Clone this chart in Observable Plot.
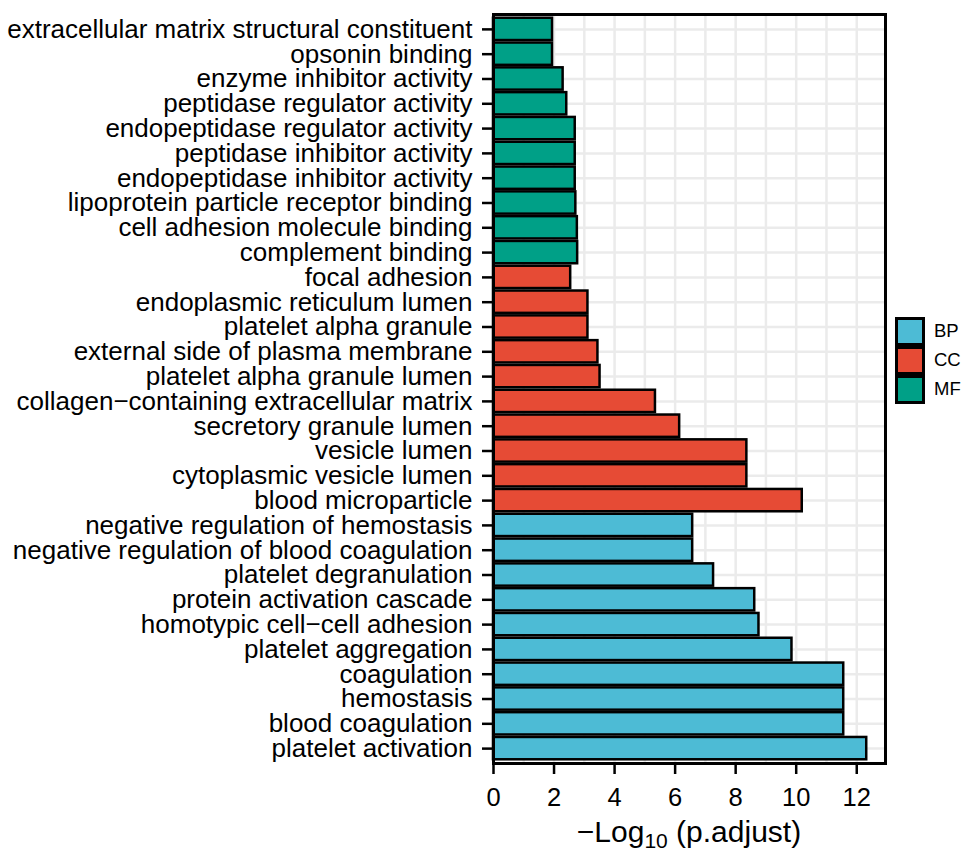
<!DOCTYPE html>
<html>
<head>
<meta charset="utf-8">
<script src="https://cdn.jsdelivr.net/npm/d3@7"></script>
<script src="https://cdn.jsdelivr.net/npm/@observablehq/plot@0.6"></script>
<style>
  html, body { margin: 0; padding: 0; background: #fff; }
  #wrap { position: relative; width: 969px; height: 850px; font-family: "Liberation Sans", Arial, sans-serif; }
  #legend { position: absolute; left: 895px; top: 317px; }
  .key { display: flex; align-items: center; height: 29px; }
  .sw { width: 24px; height: 23px; border: 3px solid #000; box-sizing: content-box; }
  .lab { font-size: 18.5px; margin-left: 9px; color: #000; line-height: 1; }
</style>
</head>
<body>
<div id="wrap"></div>
<script>
// Terms, top to bottom
const mfTerms = [
  "extracellular matrix structural constituent",
  "opsonin binding",
  "enzyme inhibitor activity",
  "peptidase regulator activity",
  "endopeptidase regulator activity",
  "peptidase inhibitor activity",
  "endopeptidase inhibitor activity",
  "lipoprotein particle receptor binding",
  "cell adhesion molecule binding",
  "complement binding"
];
const mfValues = [1.95, 1.95, 2.3, 2.42, 2.7, 2.7, 2.7, 2.72, 2.77, 2.78];

const ccTerms = [
  "focal adhesion",
  "endoplasmic reticulum lumen",
  "platelet alpha granule",
  "external side of plasma membrane",
  "platelet alpha granule lumen",
  "collagen\u2212containing extracellular matrix",
  "secretory granule lumen",
  "vesicle lumen",
  "cytoplasmic vesicle lumen",
  "blood microparticle"
];
const ccValues = [2.55, 3.12, 3.12, 3.45, 3.52, 5.35, 6.15, 8.37, 8.37, 10.2];

const bpTerms = [
  "negative regulation of hemostasis",
  "negative regulation of blood coagulation",
  "platelet degranulation",
  "protein activation cascade",
  "homotypic cell\u2212cell adhesion",
  "platelet aggregation",
  "coagulation",
  "hemostasis",
  "blood coagulation",
  "platelet activation"
];
const bpValues = [6.58, 6.58, 7.27, 8.63, 8.77, 9.86, 11.57, 11.57, 11.57, 12.33];

const ontologies = ["BP", "CC", "MF"];
const ontColors = ["#4DBBD5", "#E64B35", "#00A087"];
const xTicks = [0, 2, 4, 6, 8, 10, 12];
const xGrid = [0, 1, 2, 3, 4, 5, 6, 7, 8, 9, 10, 11, 12];
const xMax = 12.95;

const rows = [
  ...mfTerms.map((t, i) => ({term: t, value: mfValues[i], ont: "MF"})),
  ...ccTerms.map((t, i) => ({term: t, value: ccValues[i], ont: "CC"})),
  ...bpTerms.map((t, i) => ({term: t, value: bpValues[i], ont: "BP"}))
];
const order = rows.map(d => d.term);

const chart = Plot.plot({
  width: 969,
  height: 850,
  marginLeft: 493,
  marginRight: 84,
  marginTop: 14,
  marginBottom: 87,
  style: {fontFamily: "'Liberation Sans', Arial, sans-serif", fontSize: "25px", color: "#000", background: "#fff"},
  x: {domain: [0, xMax]},
  y: {domain: order, paddingInner: 0.1, paddingOuter: 0.15, round: false},
  color: {domain: ontologies, range: ontColors},
  marks: [
    Plot.ruleX(xGrid, {x: d => d, stroke: "#ebebeb", strokeWidth: 2.5}),
    Plot.gridY({stroke: "#ebebeb", strokeWidth: 2.5, strokeOpacity: 1}),
    Plot.barX(rows, {x: "value", y: "term", fill: "ont", stroke: "#000", strokeWidth: 2.5}),
    Plot.frame({stroke: "#000", strokeWidth: 3}),
    Plot.axisX({ticks: xTicks, tickSize: 11, tickPadding: 13, strokeWidth: 2.5, label: null, fontSize: 25.5}),
    Plot.axisY({tickSize: 11, tickPadding: 10, strokeWidth: 2.5, label: null, fontSize: 26})
  ]
});

const wrap = document.getElementById("wrap");
wrap.appendChild(chart);

// x-axis title with subscript
const svg = d3.select(chart);
const t = svg.append("text")
  .attr("x", 689)
  .attr("y", 842)
  .attr("text-anchor", "middle")
  .attr("fill", "#000")
  .style("font-family", "'Liberation Sans', Arial, sans-serif")
  .style("font-size", "30px");
t.append("tspan").text("\u2212Log");
t.append("tspan").attr("dy", 6).style("font-size", "21px").text("10");
t.append("tspan").attr("dy", -6).text(" (p.adjust)");

// legend
const legend = document.createElement("div");
legend.id = "legend";
ontologies.forEach((o, i) => {
  const k = document.createElement("div");
  k.className = "key";
  const sw = document.createElement("div");
  sw.className = "sw";
  sw.style.background = ontColors[i];
  const lab = document.createElement("span");
  lab.className = "lab";
  lab.textContent = o;
  k.appendChild(sw);
  k.appendChild(lab);
  legend.appendChild(k);
});
wrap.appendChild(legend);
</script>
</body>
</html>
